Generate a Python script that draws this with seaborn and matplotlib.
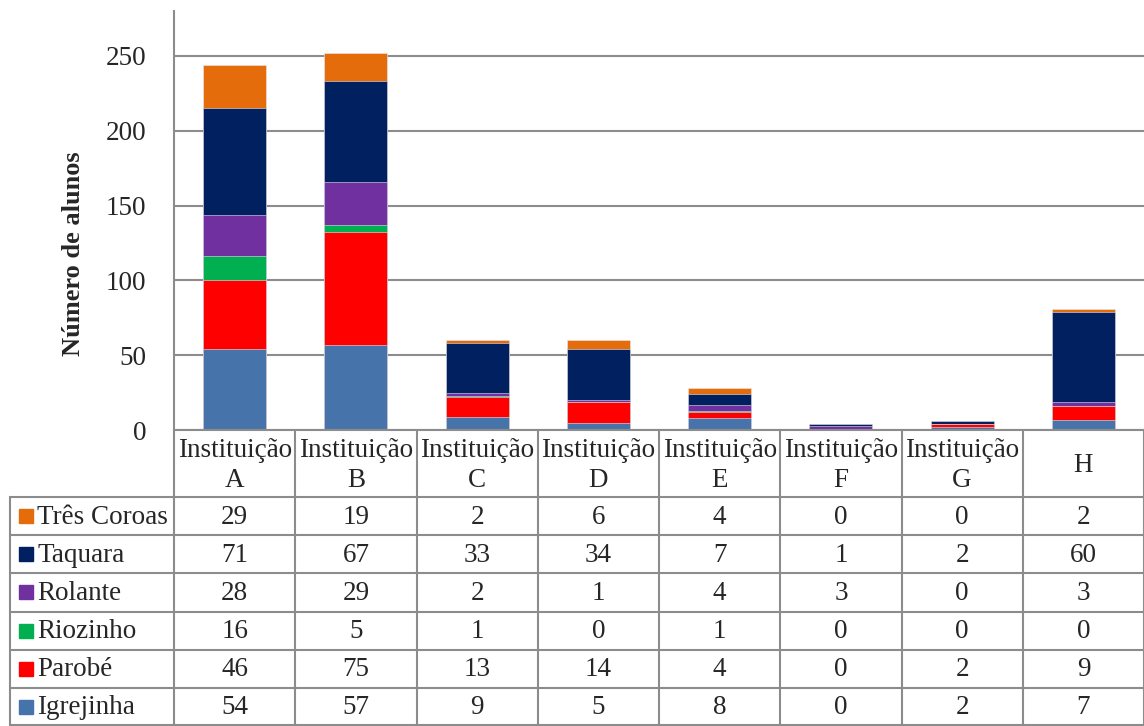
import numpy as np
import pandas as pd
import matplotlib.pyplot as plt
import seaborn as sns
from matplotlib.patches import Rectangle
from matplotlib.lines import Line2D

sns.set_theme(style="white")
plt.rcParams["font.family"] = ["Liberation Serif", "DejaVu Serif"]

institutions = ["Instituição\nA", "Instituição\nB", "Instituição\nC", "Instituição\nD",
                "Instituição\nE", "Instituição\nF", "Instituição\nG", "H"]
igrejinha = [54, 57, 9, 5, 8, 0, 2, 7]
parobe = [46, 75, 13, 14, 4, 0, 2, 9]
riozinho = [16, 5, 1, 0, 1, 0, 0, 0]
rolante = [28, 29, 2, 1, 4, 3, 0, 3]
taquara = [71, 67, 33, 34, 7, 1, 2, 60]
tres_coroas = [29, 19, 2, 6, 4, 0, 0, 2]

series_names = ["Igrejinha", "Parobé", "Riozinho", "Rolante", "Taquara", "Três Coroas"]
series_vals = [igrejinha, parobe, riozinho, rolante, taquara, tres_coroas]
colors = ["#4674AA", "#FF0000", "#00B050", "#7030A0", "#002060", "#E46C0A"]

# Figure geometry (pixels)
W, H = 1144, 726
x0, x1 = 174, 1144      # plot area left/right
y_zero, y_top = 430, 11  # pixel rows of 0 and top of axis
grid_col = "#8C8C8C"
fs = 19.5

fig = plt.figure(figsize=(W / 100, H / 100), dpi=100)
ax = fig.add_axes([x0 / W, (H - y_zero) / H, (x1 - x0) / W, (y_zero - y_top) / H])


def fx(px):
    return px / W


def fy(py):
    return 1 - py / H


# stacked bars: draw cumulative totals from the top series down
df = pd.DataFrame({"inst": institutions})
cum = np.zeros(len(institutions))
for name, vals in zip(series_names, series_vals):
    cum = cum + np.array(vals)
    df[name] = cum.copy()

for name, c in reversed(list(zip(series_names, colors))):
    sns.barplot(data=df, x="inst", y=name, color=c, saturation=1, width=0.52,
                linewidth=0.4, edgecolor="#E8E8F0", ax=ax)

ax.set_ylim(0, 280)
ax.set_xlim(-0.5, len(institutions) - 0.5)
ax.set_yticks([0, 50, 100, 150, 200, 250])
ax.yaxis.grid(True, color=grid_col, lw=1.5)
ax.set_axisbelow(True)
ax.tick_params(axis="y", labelsize=fs, length=0, pad=20)
ax.set_xticks([])
ax.set(xlabel=None, ylabel=None)
for s in ["top", "right", "bottom"]:
    ax.spines[s].set_visible(False)
ax.spines["left"].set_color(grid_col)
ax.spines["left"].set_linewidth(1.5)

fig.text(fx(73), fy(254), "Número de alunos", rotation=90, ha="center", va="center",
         fontsize=19, fontweight="bold")

# data table below the plot
col_w = (x1 - x0) / len(institutions)
header_bottom = 497
row_h = (H - header_bottom) / 6
lw = 1.5


def hline(xa, xb, y):
    fig.add_artist(Line2D([fx(xa), fx(xb)], [fy(y), fy(y)], color=grid_col, lw=lw))


def vline(x, ya, yb):
    fig.add_artist(Line2D([fx(x), fx(x)], [fy(ya), fy(yb)], color=grid_col, lw=lw))


hline(x0, x1, y_zero)
hline(10, x1, header_bottom)
for i in range(1, 6):
    hline(10, x1, header_bottom + i * row_h)
hline(10, x1, H - 1)
vline(10, header_bottom, H)
for k in range(len(institutions) + 1):
    vline(x0 + k * col_w, y_zero, H)

for k, lab in enumerate(institutions):
    fig.text(fx(x0 + (k + 0.5) * col_w), fy((y_zero + header_bottom) / 2 + 2), lab,
             ha="center", va="center", fontsize=fs, linespacing=1.3)

# rows listed top to bottom (reverse of stacking order)
for r, (name, vals, c) in enumerate(zip(series_names[::-1], series_vals[::-1], colors[::-1])):
    yc = header_bottom + (r + 0.5) * row_h
    fig.add_artist(Rectangle((fx(19), fy(yc + 7)), 14 / W, 14 / H, color=c,
                             transform=fig.transFigure))
    fig.text(fx(37), fy(yc + 1), name, ha="left", va="center", fontsize=fs)
    for k, v in enumerate(vals):
        fig.text(fx(x0 + (k + 0.5) * col_w), fy(yc + 1), str(v), ha="center",
                 va="center", fontsize=fs)

fig.savefig("out.png", dpi=100)
